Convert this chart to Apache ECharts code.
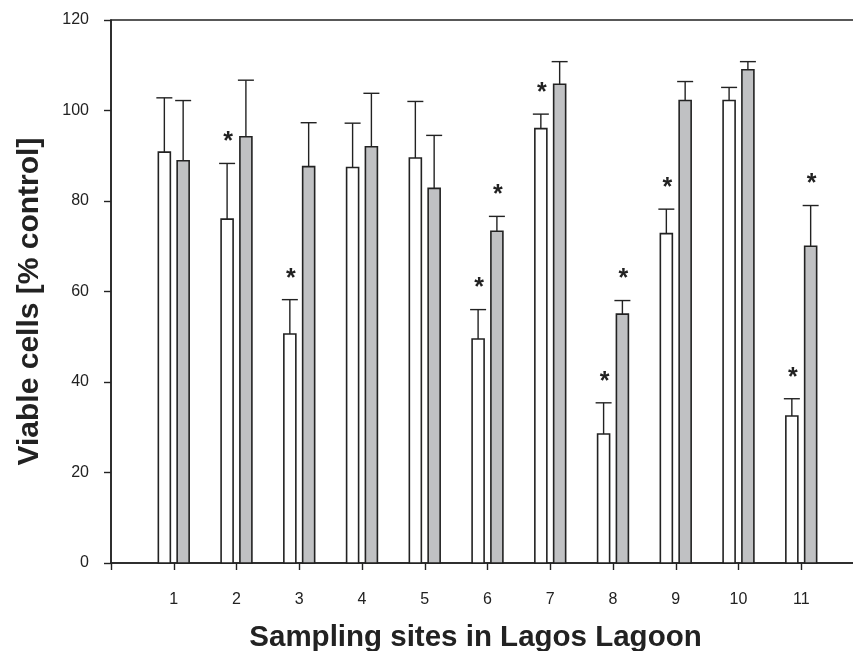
<!DOCTYPE html>
<html>
<head>
<meta charset="utf-8">
<script src="https://cdn.jsdelivr.net/npm/echarts@6/dist/echarts.min.js"></script>
<style>html,body{margin:0;padding:0;background:#fff}#c{width:853px;height:651px}</style>
</head>
<body>
<div id="c"></div>
<script>
// ---- data ----
var sites = [1, 2, 3, 4, 5, 6, 7, 8, 9, 10, 11];
var whiteValues = [90.8, 76.0, 50.6, 87.4, 89.5, 49.5, 96.0, 28.5, 72.8, 102.2, 32.5];
var whiteErrors = [12.0, 12.3, 7.6, 9.8, 12.5, 6.5, 3.2, 6.9, 5.4, 2.9, 3.8];
var whiteSig    = [0, 1, 1, 0, 0, 1, 1, 1, 1, 0, 1];
var grayValues  = [88.9, 94.2, 87.6, 92.0, 82.8, 73.3, 105.8, 55.0, 102.2, 109.0, 70.0];
var grayErrors  = [13.3, 12.5, 9.7, 11.8, 11.7, 3.3, 5.0, 3.0, 4.2, 1.8, 9.0];
var graySig     = [0, 0, 0, 0, 0, 1, 0, 1, 0, 0, 1];
var yTicks = [0, 20, 40, 60, 80, 100, 120];

var FONT = '"Liberation Sans", Arial, Helvetica, sans-serif';
var INK = '#222';

function build(values, errors, sig) {
  return sites.map(function (s, i) { return [s, values[i], errors[i], sig[i]]; });
}

function makeRender(offset, fill) {
  return function (params, api) {
    var x = api.value(0), v = api.value(1), e = api.value(2), sg = api.value(3);
    var base = api.coord([x, 0]);
    var top = api.coord([x, v]);
    var et = api.coord([x, v + e]);
    var cx = base[0] + offset;
    var bw = 12;
    var cap = 16;
    var children = [
      { type: 'rect', shape: { x: cx - bw / 2, y: top[1], width: bw, height: base[1] - top[1] },
        style: { fill: fill, stroke: INK, lineWidth: 1.6 } },
      { type: 'line', shape: { x1: cx, y1: top[1], x2: cx, y2: et[1] },
        style: { stroke: INK, lineWidth: 1.4 } },
      { type: 'line', shape: { x1: cx - cap / 2, y1: et[1], x2: cx + cap / 2, y2: et[1] },
        style: { stroke: INK, lineWidth: 1.4 } }
    ];
    if (sg) {
      children.push({ type: 'text', x: cx + 1, y: et[1] - 21,
        style: { text: '*', fill: INK, font: 'bold 25px ' + FONT, align: 'center', verticalAlign: 'middle' } });
    }
    return { type: 'group', children: children };
  };
}

var chart = echarts.init(document.getElementById('c'), null, { renderer: 'canvas' });
chart.setOption({
  animation: false,
  backgroundColor: '#fff',
  grid: { left: 111, top: 20, right: -11, bottom: 88, outerBoundsMode: 'none', containLabel: false,
          show: true, borderColor: INK, borderWidth: 1.5 },
  xAxis: {
    type: 'value', min: 0, max: 12, interval: 1,
    name: 'Sampling sites in Lagos Lagoon', nameLocation: 'middle', nameGap: 60,
    nameTextStyle: { fontFamily: FONT, fontWeight: 'bold', fontSize: 29.5, color: INK, padding: [0, 24, 0, 0] },
    axisLine: { lineStyle: { color: INK, width: 1.5 } },
    axisTick: { inside: false, length: 7, lineStyle: { color: INK, width: 1.4 } },
    axisLabel: { fontFamily: FONT, fontSize: 16, color: INK, margin: 29,
      formatter: function (v) { return sites.indexOf(v) >= 0 ? String(v) : ''; } },
    splitLine: { show: false }
  },
  yAxis: {
    type: 'value', min: yTicks[0], max: yTicks[yTicks.length - 1], interval: 20,
    name: 'Viable cells [% control]', nameLocation: 'middle', nameGap: 66, nameRotate: 90,
    nameTextStyle: { fontFamily: FONT, fontWeight: 'bold', fontSize: 30, color: INK, padding: [0, 20, 0, 0] },
    axisLine: { show: true, lineStyle: { color: INK, width: 1.5 } },
    axisTick: { show: true, inside: false, length: 7, lineStyle: { color: INK, width: 1.4 } },
    axisLabel: { fontFamily: FONT, fontSize: 16, color: INK, margin: 22 },
    splitLine: { show: false }
  },
  series: [
    { type: 'custom', renderItem: makeRender(-9.4, '#ffffff'), data: build(whiteValues, whiteErrors, whiteSig), clip: false },
    { type: 'custom', renderItem: makeRender(9.4, '#c0c1c3'), data: build(grayValues, grayErrors, graySig), clip: false }
  ]
});
</script>
</body>
</html>
